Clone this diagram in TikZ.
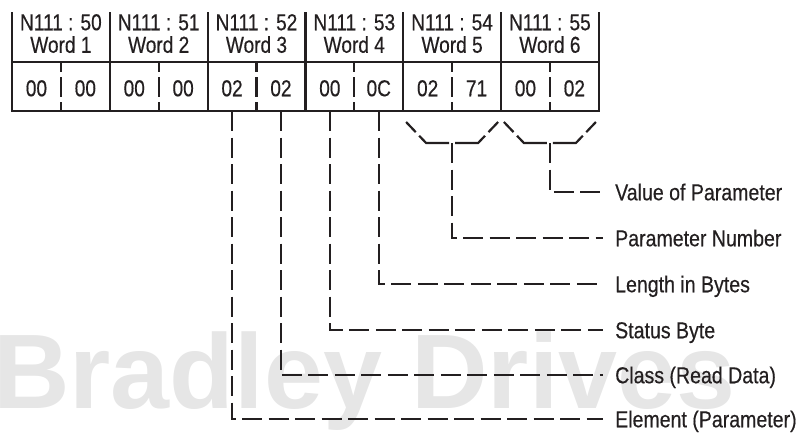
\documentclass[tikz,border=0pt]{standalone}
\usepackage{fontspec}
\setmainfont{Liberation Sans}
\newfontfamily\narrowfont{Liberation Sans}[FakeStretch=0.83,FakeBold=0.4]
\newfontfamily\labelfont{Liberation Sans}[FakeStretch=0.85,FakeBold=0.4]
\usetikzlibrary{positioning,calc}
\definecolor{figInk}{HTML}{231F20}
\definecolor{figMark}{HTML}{E6E6E6}
\tikzset{
  cellrule/.style={line width=2.2pt,draw=figInk,line cap=rect},
  halfrule/.style={line width=2.2pt,draw=figInk,dash pattern=on 10pt off 5pt on 20pt off 5pt on 10pt},
  leader/.style={line width=2.2pt,draw=figInk,dash pattern=on 20pt off 6.5pt,shorten >=12pt},
  bracket/.style={leader,dash pattern=on 0pt off 3pt on 33pt off 5pt on 20pt,shorten >=0pt},
  celltext/.style={font=\narrowfont\fontsize{23}{26}\selectfont,text=figInk,inner sep=0pt,
                   text height=16.5pt,text depth=0pt},
  labeltext/.style={celltext,font=\labelfont\fontsize{23}{26}\selectfont,anchor=west},
}

\begin{document}
\begin{tikzpicture}[x=1pt,y=-1pt]
  \useasboundingbox (0,0) rectangle (802,432);
  \node[anchor=base west,inner sep=0pt,text=figMark,font=\fontsize{106}{110}\selectfont\bfseries]
    (mark) at (-7,408) {Bradley Drives};

  \foreach \i in {0,...,6}{\draw[cellrule] (12+97.8*\i,13) -- (12+97.8*\i,111);}
  \draw[cellrule] (12,62) -- (599,62);
  \draw[cellrule] (12,111) -- (599,111);
  \coordinate (bot) at (0,111);

  \foreach \i [evaluate=\i as \n using int(49+\i)] in {1,...,6}{
    \node[celltext] (hdN\i) at (12+97.8*\i-48.9,22) {N111 : \n};
    \node[celltext] (hdW\i) at (12+97.8*\i-48.9,44.5) {Word \i};
    \draw[halfrule] (12+97.8*\i-48.9,62) -- ++(0,49);
  }
  \foreach \v [count=\k] in {00,00,00,00,02,02,00,0C,02,71,00,02}
    \node[celltext] (v\k) at (36.45+48.9*\k-48.9,88) {\v};

  \node[labeltext] (lbVal)   at (615,192) {Value of Parameter};
  \node[labeltext] (lbPar)   at (615,238) {Parameter Number};
  \node[labeltext] (lbLen)   at (615,284) {Length in Bytes};
  \node[labeltext] (lbStat)  at (615,330) {Status Byte};
  \node[labeltext] (lbClass) at (615,375) {Class (Read Data)};
  \node[labeltext] (lbElem)  at (615,419) {Element (Parameter)};

  \foreach \k/\l in {5/lbElem,6/lbClass,7/lbStat,8/lbLen}
    \draw[leader] (v\k |- bot) |- (\l.west);

  \foreach \i in {5,6}{
    \coordinate (br\i) at (12+97.8*\i-48.9,143);
    \draw[bracket] (br\i) -- ++(-26,0) -- ++(-20,-21);
    \draw[bracket] (br\i) -- ++(26,0) -- ++(20,-21);
  }
  \draw[leader] (br5) |- (lbPar.west);
  \draw[leader] (br6) |- (lbVal.west);
\end{tikzpicture}
\end{document}
